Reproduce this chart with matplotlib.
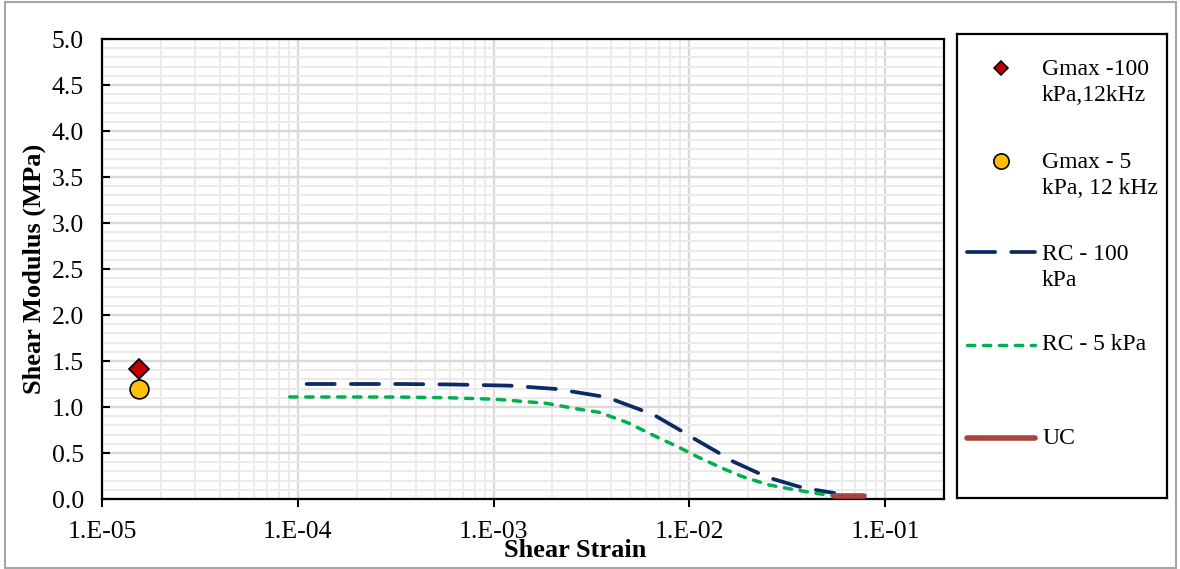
import math
import matplotlib
matplotlib.use("Agg")
import matplotlib.pyplot as plt
from matplotlib.patches import Rectangle
from matplotlib.ticker import LogLocator, MultipleLocator, FuncFormatter, NullFormatter

plt.rcParams['font.family'] = ['Liberation Serif', 'DejaVu Serif']

# ---- data ----
gmax100_strain = [1.55e-5]
gmax100_G = [1.41]
gmax5_strain = [1.55e-5]
gmax5_G = [1.20]

rc100_strain = [1.11e-4, 2.0e-4, 3.3e-4, 6.0e-4, 1.21e-3, 2.09e-3, 3.47e-3,
                4.14e-3, 5.68e-3, 6.77e-3, 9.08e-3, 1.05e-2, 1.41e-2, 1.64e-2,
                2.23e-2, 2.61e-2, 3.63e-2, 4.24e-2, 5.5e-2]
rc100_G = [1.25, 1.25, 1.25, 1.245, 1.232, 1.196, 1.12,
           1.076, 0.967, 0.90, 0.742, 0.66, 0.503, 0.416,
           0.286, 0.225, 0.134, 0.105, 0.065]

rc5_strain = [9.1e-5, 2.0e-4, 3.3e-4, 6.0e-4, 1.03e-3, 1.86e-3, 2.75e-3,
              3.47e-3, 4.84e-3, 6.5e-3, 9.08e-3, 1.08e-2, 1.48e-2, 1.87e-2,
              2.56e-2, 3.37e-2, 4.43e-2, 5.38e-2]
rc5_G = [1.109, 1.109, 1.108, 1.10, 1.084, 1.04, 0.975,
         0.942, 0.83, 0.696, 0.55, 0.467, 0.333, 0.243,
         0.152, 0.105, 0.062, 0.036]

uc_strain = [5.5e-2, 7.8e-2]
uc_G = [0.035, 0.035]

x_lim = (1e-5, 2e-1)
y_lim = (0, 5)

legend_labels = ["Gmax -100\nkPa,12kHz", "Gmax - 5\nkPa, 12 kHz",
                 "RC - 100\nkPa", "RC - 5 kPa", "UC"]

navy = '#0C2A66'
green = '#00B050'
red = '#C00000'
gold = '#FFC000'
brown = '#A8443E'
dash_long = (0, (7.5, 4.3))
dash_short = (0, (2.1, 2.5))

fig = plt.figure(figsize=(11.8, 5.69), dpi=100)
fig.patches.append(Rectangle((0.004, 0.002), 0.993, 0.994, transform=fig.transFigure,
                             fill=False, edgecolor='#A6A6A6', lw=1.5))

ax = fig.add_axes([102/1180, 70/569, 842/1180, 460/569])
ax.set_xscale('log')
ax.set_xlim(*x_lim)
ax.set_ylim(*y_lim)

ax.plot(rc100_strain, rc100_G, color=navy, lw=2.7, linestyle=dash_long,
        dash_capstyle='round', zorder=3)
ax.plot(rc5_strain, rc5_G, color=green, lw=2.5, linestyle=dash_short,
        dash_capstyle='round', zorder=3)
ax.plot(uc_strain, uc_G, color=brown, lw=4, solid_capstyle='round', zorder=4)
ax.plot(gmax100_strain, gmax100_G, linestyle='none', marker='D', ms=10,
        mfc=red, mec='black', mew=1.2, zorder=5)
ax.plot(gmax5_strain, gmax5_G, linestyle='none', marker='o', ms=13.5,
        mfc=gold, mec='black', mew=1.2, zorder=5)

# ticks & grid
ax.xaxis.set_major_locator(LogLocator(base=10, numticks=10))
ax.xaxis.set_minor_locator(LogLocator(base=10, subs=range(2, 10), numticks=20))
ax.xaxis.set_minor_formatter(NullFormatter())
ax.xaxis.set_major_formatter(FuncFormatter(
    lambda v, p: "1.E-%02d" % round(-math.log10(v))))
ax.yaxis.set_major_locator(MultipleLocator(0.5))
ax.yaxis.set_minor_locator(MultipleLocator(0.1))
ax.yaxis.set_major_formatter(FuncFormatter(lambda v, p: "%.1f" % v))
ax.grid(which='minor', color='#EBEBEB', lw=1.5, zorder=0)
ax.grid(which='major', color='#D9D9D9', lw=1.7, zorder=1)
ax.set_axisbelow(True)

ax.tick_params(axis='y', which='major', direction='in', length=6, width=1.5,
               labelsize=18.5, pad=13)
ax.tick_params(axis='x', which='major', direction='out', length=6, width=1.5,
               labelsize=18.5, pad=10)
ax.tick_params(which='minor', length=0)
for s in ax.spines.values():
    s.set_linewidth(1.6)
    s.set_color('black')

ax.set_xlabel("Shear Strain", fontsize=19, fontweight='bold')
ax.xaxis.set_label_coords((575 - 102) / 842, (499 - 539) / 460)
ax.set_ylabel("Shear Modulus (MPa)", fontsize=19, fontweight='bold')
ax.yaxis.set_label_coords((46 - 102) / 842, 0.5)

# legend box drawn as its own panel
lg = fig.add_axes([957/1180, 71/569, 210/1180, 464/569])
lg.set_xlim(957, 1167)
lg.set_ylim(498, 34)
lg.set_xticks([])
lg.set_yticks([])
for s in lg.spines.values():
    s.set_linewidth(1.6)
    s.set_color('black')

lg.plot([1001], [68], marker='D', ms=7, mfc=red, mec='black', mew=1.1, ls='none')
lg.plot([1001], [161], marker='o', ms=11, mfc=gold, mec='black', mew=1.2, ls='none')
lg.plot([967, 1035], [252, 252], color=navy, lw=2.7, linestyle=dash_long,
        dash_capstyle='round')
lg.plot([967, 1035], [345, 345], color=green, lw=2.5, linestyle=dash_short,
        dash_capstyle='round')
lg.plot([967, 1035], [438, 438], color=brown, lw=4, solid_capstyle='round')

text_y = [82.5, 175.5, 267.5, 345, 438]
for lab, ty in zip(legend_labels, text_y):
    lg.text(1042, ty, lab, fontsize=17, va='center', ha='left', linespacing=1.35)

fig.savefig("out.png", dpi=100)
